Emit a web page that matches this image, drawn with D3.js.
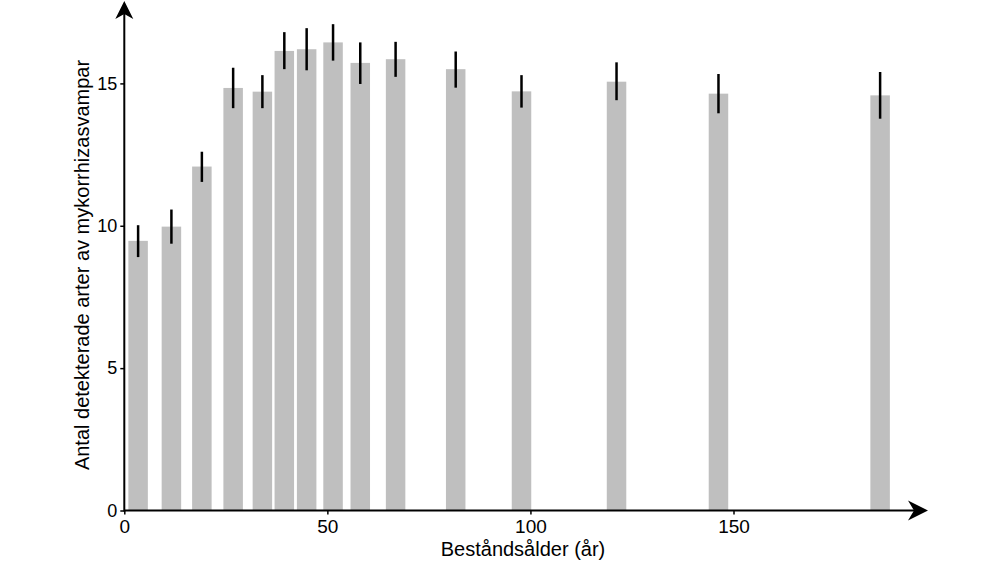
<!DOCTYPE html>
<html>
<head>
<meta charset="utf-8">
<script src="https://cdn.jsdelivr.net/npm/d3@7"></script>
<style>
  html, body { margin: 0; padding: 0; background: #fff; }
  svg { display: block; }
  text { font-family: "Liberation Sans", Arial, sans-serif; fill: #000; }
</style>
</head>
<body>
<svg id="chart" width="1000" height="562"></svg>
<script>
// Data
const ages      = [3.4, 11.6, 19.1, 26.8, 34.0, 39.4, 44.9, 51.4, 58.1, 66.8, 81.6, 97.8, 121.2, 146.3, 186.1];
const means     = [9.47, 9.97, 12.08, 14.84, 14.71, 16.14, 16.2, 16.44, 15.72, 15.85, 15.5, 14.72, 15.06, 14.64, 14.58];
const errHigh   = [10.02, 10.57, 12.60, 15.55, 15.29, 16.80, 16.94, 17.08, 16.44, 16.46, 16.12, 15.29, 15.74, 15.33, 15.40];
const errLow    = [8.90, 9.37, 11.54, 14.13, 14.13, 15.50, 15.46, 15.80, 14.98, 15.23, 14.85, 14.15, 14.41, 13.95, 13.76];
const xTicks    = [0, 50, 100, 150];
const yTicks    = [0, 5, 10, 15];
const barWidthYears = 4.8;
const xTitle = "Beståndsålder (år)";
const yTitle = "Antal detekterade arter av mykorrhizasvampar";

const svg = d3.select("#chart");
const x = d3.scaleLinear().domain([0, 150]).range([124.3, 733.5]);
const y = d3.scaleLinear().domain([0, 15]).range([510.5, 83.4]);

const data = ages.map((a, i) => ({ age: a, mean: means[i], hi: errHigh[i], lo: errLow[i] }));
const bw = x(barWidthYears) - x(0);

// Bars
svg.append("g").selectAll("rect").data(data).join("rect")
  .attr("x", d => x(d.age) - bw / 2)
  .attr("width", bw)
  .attr("y", d => y(d.mean))
  .attr("height", d => y(0) - y(d.mean))
  .attr("fill", "#bfbfbf");

// Error bars
svg.append("g").selectAll("line").data(data).join("line")
  .attr("x1", d => x(d.age)).attr("x2", d => x(d.age))
  .attr("y1", d => y(d.hi)).attr("y2", d => y(d.lo))
  .attr("stroke", "#000").attr("stroke-width", 2.5);

// Axes
const xAxis = d3.axisBottom(x).tickValues(xTicks).tickSize(4).tickPadding(5);
const yAxis = d3.axisLeft(y).tickValues(yTicks).tickSize(4).tickPadding(3);

const gx = svg.append("g").attr("transform", `translate(0,${y(0)})`).call(xAxis);
const gy = svg.append("g").attr("transform", `translate(${x(0)},0)`).call(yAxis);
[gx, gy].forEach(g => {
  g.select(".domain").remove();
  g.selectAll(".tick line").attr("stroke", "#000").attr("stroke-width", 1.5);
  g.selectAll(".tick text").style("font-family", '"Liberation Sans", Arial, sans-serif').attr("fill", "#000");
});
gx.selectAll(".tick text").style("font-size", "19px");
gy.selectAll(".tick text").style("font-size", "18px");

// Axis lines with arrows
const xEnd = 928, yTop = 1;
svg.append("line").attr("x1", x(0)).attr("x2", xEnd - 12)
  .attr("y1", y(0)).attr("y2", y(0)).attr("stroke", "#000").attr("stroke-width", 2);
svg.append("line").attr("x1", x(0)).attr("x2", x(0))
  .attr("y1", y(0) + 1).attr("y2", yTop + 12).attr("stroke", "#000").attr("stroke-width", 2);

// arrow heads
const ax = xEnd, ay = y(0);
svg.append("path")
  .attr("d", `M${ax},${ay} L${ax - 20},${ay - 10} L${ax - 14},${ay} L${ax - 20},${ay + 10} Z`)
  .attr("fill", "#000");
const bx = x(0), by = yTop;
svg.append("path")
  .attr("d", `M${bx},${by} L${bx - 9},${by + 18} L${bx},${by + 13} L${bx + 9},${by + 18} Z`)
  .attr("fill", "#000");

// Titles
svg.append("text").attr("x", 523).attr("y", 556).attr("text-anchor", "middle")
  .style("font-size", "20px").text(xTitle);
svg.append("text").attr("transform", "translate(88.5,265) rotate(-90)")
  .attr("text-anchor", "middle").style("font-size", "20px").text(yTitle);
</script>
</body>
</html>
